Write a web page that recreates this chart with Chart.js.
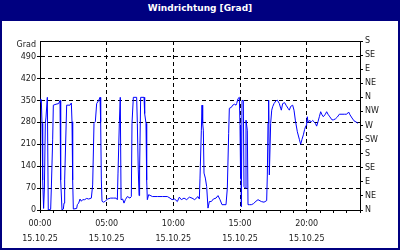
<!DOCTYPE html>
<html><head><meta charset="utf-8">
<script src="https://cdn.jsdelivr.net/npm/chart.js@4/dist/chart.umd.min.js"></script>
<style>
html,body{margin:0;padding:0;background:#000080;}
#frame{position:relative;width:400px;height:250px;background:#000080;overflow:hidden;}
#title{position:absolute;left:0;top:0;width:400px;height:21px;line-height:17px;color:#fff;font-weight:bold;font-size:9px;font-family:"DejaVu Sans";text-align:center;}
#plot{position:absolute;left:2px;top:21px;width:396px;height:227px;background:#fff;}
canvas{display:block;}
</style></head>
<body><div id="frame"><div id="title">Windrichtung [Grad]</div><div id="plot"><canvas id="c" width="396" height="227"></canvas></div></div>
<script>
// ---- data (hours since 00:00, wind direction in degrees) ----
const times = [0.00,0.05,0.10,0.15,0.20,0.27,0.33,0.40,0.45,0.55,0.62,0.80,0.85,0.95,1.00,1.20,1.40,1.50,1.55,1.65,1.75,1.80,1.85,2.00,2.25,2.35,2.40,2.45,2.50,2.75,2.80,2.90,3.00,3.10,3.20,3.35,3.50,3.65,3.85,3.95,4.05,4.15,4.25,4.40,4.50,4.55,4.60,4.65,4.75,4.90,5.05,5.30,5.50,5.70,5.80,5.85,5.95,6.02,6.08,6.20,6.30,6.40,6.55,6.75,6.85,6.90,7.00,7.25,7.30,7.37,7.43,7.47,7.55,7.80,7.85,7.95,8.00,8.05,8.15,8.43,8.80,9.20,9.55,9.75,9.90,10.10,10.30,10.45,10.60,10.80,11.00,11.20,11.40,11.60,11.85,11.95,12.00,12.10,12.15,12.20,12.25,12.30,12.40,12.50,12.60,12.70,12.85,13.00,13.20,13.35,13.50,13.65,13.80,13.95,14.05,14.15,14.20,14.35,14.45,14.60,14.70,14.75,14.85,14.95,15.00,15.03,15.06,15.10,15.15,15.25,15.30,15.40,15.45,15.55,15.60,15.70,15.85,16.00,16.20,16.35,16.60,16.80,17.00,17.05,17.10,17.15,17.20,17.30,17.38,17.45,17.55,17.70,17.80,17.95,18.05,18.10,18.20,18.35,18.45,18.60,18.70,18.80,18.95,19.05,19.15,19.30,19.45,19.55,19.65,19.75,19.85,19.95,20.00,20.05,20.10,20.20,20.35,20.45,20.55,20.65,20.75,20.85,20.95,21.05,21.15,21.25,21.40,21.50,21.60,21.70,21.90,22.00,22.15,22.30,22.45,22.65,22.85,23.00,23.15,23.25,23.40,23.55,23.75,23.85];
const values = [345,355,350,277,96,5,70,277,297,360,0,2,70,224,335,338,340,350,96,0,3,22,96,335,335,342,282,96,3,5,17,22,35,28,33,33,37,35,38,80,277,282,340,350,360,282,96,28,25,28,35,38,38,38,33,118,277,360,33,35,22,33,43,38,43,277,360,360,277,128,46,128,360,360,308,277,96,33,49,43,43,43,43,38,33,35,27,41,33,38,33,41,38,33,43,35,102,255,335,277,255,118,102,75,6,27,27,35,38,46,33,17,17,17,70,245,325,328,335,338,335,340,356,360,270,100,270,10,350,350,75,70,287,255,17,17,17,20,28,33,27,25,30,112,277,351,112,277,319,330,340,349,351,340,325,319,340,343,335,325,319,331,335,319,287,250,226,210,226,240,258,270,282,298,279,286,282,286,282,277,268,282,298,314,304,298,306,314,306,300,288,288,291,297,306,306,306,306,313,304,294,285,280,277];

// ---- tick labels ----
const hourLabels = {0:'00:00',5:'05:00',10:'10:00',15:'15:00',20:'20:00'};
const dateLabel = '15.10.25';
const gradTicks = [0,70,140,210,280,350,420,490];
const compassLabels = ['N','NE','E','SE','S','SW','W','NW','N','NE','E','SE','S'];
const unitLabel = 'Grad';

const FONT = {family:'DejaVu Sans', size:8, lineHeight:'15px'};
const YFONT = {family:'DejaVu Sans', size:8, lineHeight:'10px'};
const TXT = '#1a1a1a';
const DASH = [4,3];

const gradPlugin = {
  id:'gradLabel',
  afterDraw(chart){
    const ctx = chart.ctx, a = chart.chartArea;
    ctx.save();
    ctx.font = '8px "DejaVu Sans"';
    ctx.fillStyle = TXT;
    ctx.textAlign = 'right';
    ctx.textBaseline = 'middle';
    ctx.fillText(unitLabel, a.left - 4, a.top + 4);
    ctx.restore();
  }
};

new Chart(document.getElementById('c'), {
  type:'line',
  data:{datasets:[{
    data: times.map((t,i)=>({x:t, y:values[i]})),
    borderColor:'#0000ff', borderWidth:1, pointRadius:0, tension:0, fill:false,
    yAxisID:'y'
  }]},
  options:{
    responsive:false, animation:false, events:[],
    layout:{padding:{top:20,left:0,right:0,bottom:0}},
    plugins:{legend:{display:false}, tooltip:{enabled:false}},
    scales:{
      x:{
        type:'linear', min:0, max:24,
        afterFit(s){ s.height = 38; },
        ticks:{stepSize:1, autoSkip:false, maxRotation:0, padding:3, color:TXT, font:FONT,
          callback:(v)=> (hourLabels[v]!==undefined ? [hourLabels[v], dateLabel] : '')},
        grid:{
          color:(c)=> (c.tick && c.tick.value%5===0 && c.tick.value>0 && c.tick.value<24) ? '#000' : 'rgba(0,0,0,0)',
          tickColor:'#000', tickLength:3, lineWidth:1
        },
        border:{display:true, color:'#000', width:1, dash:DASH}
      },
      y:{
        position:'left', min:0, max:540,
        afterFit(s){ s.width = 38; },
        afterBuildTicks(s){ s.ticks = gradTicks.map(v=>({value:v})); },
        ticks:{padding:1, autoSkip:false, color:TXT, font:YFONT, callback:(v)=>String(v)},
        grid:{
          color:(c)=> (c.tick && c.tick.value>0) ? '#000' : 'rgba(0,0,0,0)',
          tickColor:'#000', tickLength:3, lineWidth:1
        },
        border:{display:true, color:'#000', width:1, dash:DASH}
      },
      y2:{
        position:'right', min:0, max:540,
        afterFit(s){ s.width = 38; },
        afterBuildTicks(s){ s.ticks = compassLabels.map((l,i)=>({value:i*45})); },
        ticks:{padding:2, autoSkip:false, color:TXT, font:YFONT, callback:(v)=>compassLabels[Math.round(v/45)]},
        grid:{
          color:(c)=> (c.tick && c.tick.value===540) ? '#000' : 'rgba(0,0,0,0)',
          tickColor:'#000', tickLength:3, lineWidth:1
        },
        border:{display:true, color:'#000', width:1}
      }
    }
  },
  plugins:[gradPlugin]
});
</script>
</body></html>
